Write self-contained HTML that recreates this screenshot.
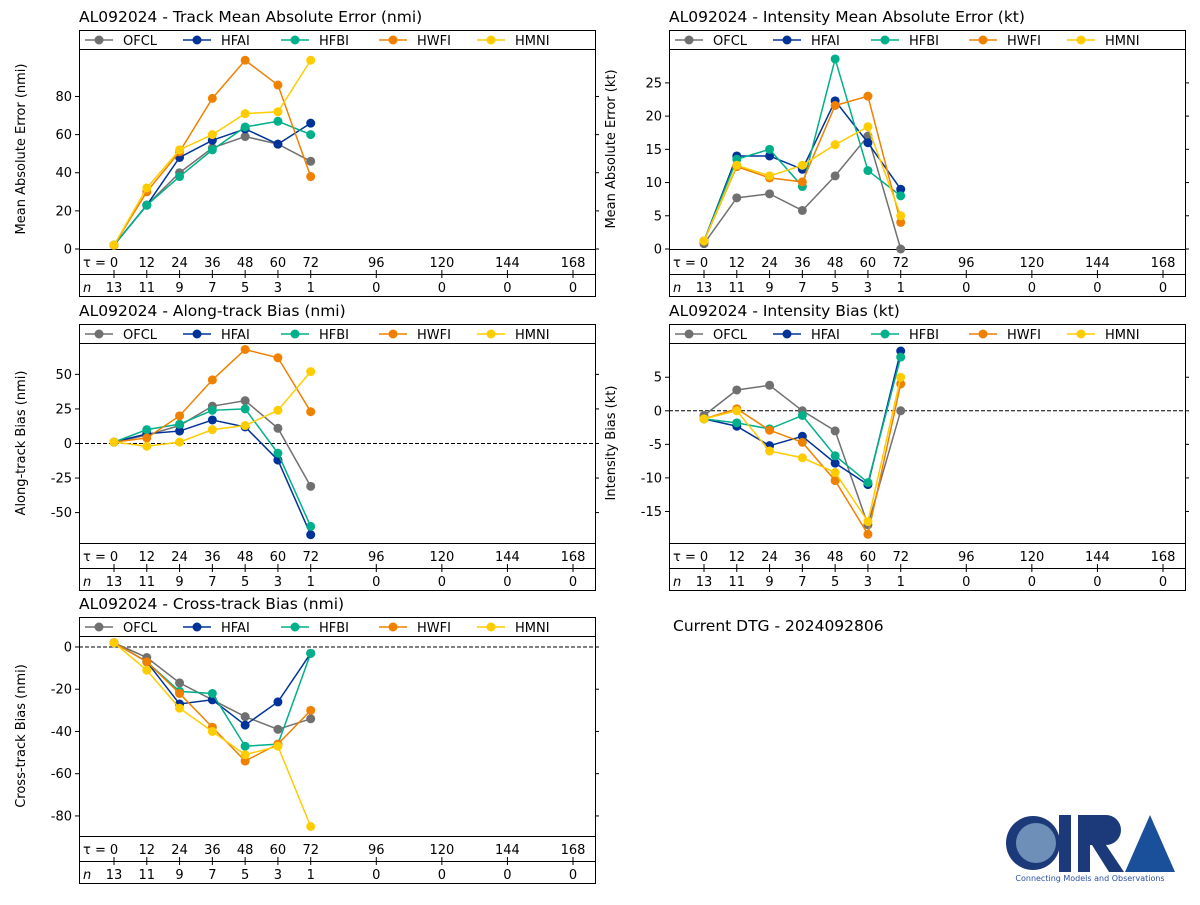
<!DOCTYPE html>
<html><head><meta charset="utf-8">
<style>
body{margin:0;background:#fff;width:1200px;height:900px;overflow:hidden;font-family:"Liberation Sans","DejaVu Sans",sans-serif;}
svg text{font-family:"DejaVu Sans","Liberation Sans",sans-serif;}
</style></head>
<body>
<svg id="chart" width="1200" height="900" xmlns="http://www.w3.org/2000/svg"></svg>
<script>
const taus = [0,12,24,36,48,60,72];
const tauLabels = [0,12,24,36,48,60,72,96,120,144,168];
const nLabels = [13,11,9,7,5,3,1,0,0,0,0];
const models = ["OFCL","HFAI","HFBI","HWFI","HMNI"];
const colors = ["#707070","#003399","#00b08a","#f08000","#ffcc00"];
const trackOFCL=[2,23,40,53,59,55,46];
const trackHFAI=[2,23,48,57,63,55,66];
const trackHFBI=[2,23,38,52,64,67,60];
const trackHWFI=[2,30,51,79,99,86,38];
const trackHMNI=[2,32,52,60,71,72,99];
const intOFCL=[0.8,7.7,8.3,5.8,11,17,0];
const intHFAI=[1.2,14,14,12,22.3,16,9];
const intHFBI=[1.2,13.5,15,9.4,28.6,11.8,8];
const intHWFI=[1.2,12.4,10.7,10.1,21.6,23,4];
const intHMNI=[1.2,12.6,11,12.6,15.7,18.4,5];
const alongOFCL=[1,6,13,27,31,11,-31];
const alongHFAI=[1,7,9,17,12,-12,-66];
const alongHFBI=[1,10,14,24,25,-7,-60];
const alongHWFI=[1,4,20,46,68,62,23];
const alongHMNI=[1,-2,1,10,13,24,52];
const ibOFCL=[-0.7,3.1,3.8,0,-3,-17,0];
const ibHFAI=[-1.2,-2.3,-5.2,-3.8,-7.8,-11,8.9];
const ibHFBI=[-1.2,-1.8,-2.7,-0.7,-6.7,-10.7,8];
const ibHWFI=[-1.2,0.3,-2.9,-4.7,-10.4,-18.4,4];
const ibHMNI=[-1.2,0,-6,-7,-9.2,-16.5,5];
const crossOFCL=[2,-5,-17,-25,-33,-39,-34];
const crossHFAI=[2,-7,-27,-25,-37,-26,-3];
const crossHFBI=[2,-7,-21,-22,-47,-46,-3];
const crossHWFI=[2,-7,-22,-38,-54,-46,-30];
const crossHMNI=[2,-11,-29,-40,-51,-47,-85];

const NS="http://www.w3.org/2000/svg";
const svg=document.getElementById('chart');
function el(tag,attrs,parent,txt){const e=document.createElementNS(NS,tag);for(const k in attrs)e.setAttribute(k,attrs[k]);if(txt!==undefined)e.textContent=txt;(parent||svg).appendChild(e);return e;}

const panels=[
 {name:"track-mae",title:"AL092024 - Track Mean Absolute Error (nmi)",ylabel:"Mean Absolute Error (nmi)",x0:79,y0:30,ymin:0,ymax:104.9,ticks:[0,20,40,60,80],series:[trackOFCL,trackHFAI,trackHFBI,trackHWFI,trackHMNI],zero:false},
 {name:"intensity-mae",title:"AL092024 - Intensity Mean Absolute Error (kt)",ylabel:"Mean Absolute Error (kt)",x0:669,y0:30,ymin:0,ymax:30.1,ticks:[0,5,10,15,20,25],series:[intOFCL,intHFAI,intHFBI,intHWFI,intHMNI],zero:false},
 {name:"along-track-bias",title:"AL092024 - Along-track Bias (nmi)",ylabel:"Along-track Bias (nmi)",x0:79,y0:324,ymin:-72,ymax:72.7,ticks:[-50,-25,0,25,50],series:[alongOFCL,alongHFAI,alongHFBI,alongHWFI,alongHMNI],zero:true},
 {name:"intensity-bias",title:"AL092024 - Intensity Bias (kt)",ylabel:"Intensity Bias (kt)",x0:669,y0:324,ymin:-19.7,ymax:10.1,ticks:[-15,-10,-5,0,5],series:[ibOFCL,ibHFAI,ibHFBI,ibHWFI,ibHMNI],zero:true},
 {name:"cross-track-bias",title:"AL092024 - Cross-track Bias (nmi)",ylabel:"Cross-track Bias (nmi)",x0:79,y0:617,ymin:-89.5,ymax:5.2,ticks:[-80,-60,-40,-20,0],series:[crossOFCL,crossHFAI,crossHFBI,crossHWFI,crossHMNI],zero:true}
];

panels.forEach(p=>{
 const g=el('g',{});
 
 
 const W=516, legH=19, plotTop=p.y0+legH, plotBot=plotTop+200, tauBot=plotBot+25, nBot=tauBot+22;
 const xs=t=>p.x0+35+t*(459/168);
 const ys=v=>plotBot-(v-p.ymin)/(p.ymax-p.ymin)*200;
 const t=el('text',{x:p.x0,y:p.y0-8,'font-size':15.5,fill:'#000'},g,p.title);
 
 el('rect',{x:p.x0+.5,y:p.y0+.5,width:W,height:nBot-p.y0,fill:'none',stroke:'#000'},g);
 el('line',{x1:p.x0,x2:p.x0+W,y1:plotTop+.5,y2:plotTop+.5,stroke:'#000'},g);
 el('line',{x1:p.x0,x2:p.x0+W,y1:plotBot+.5,y2:plotBot+.5,stroke:'#000'},g);
 el('line',{x1:p.x0,x2:p.x0+W,y1:tauBot+.5,y2:tauBot+.5,stroke:'#000'},g);
 models.forEach((m,i)=>{
  const lx=p.x0+6+i*98, ly=p.y0+10;
  const lg=el('g',{},g);
  
  
  el('line',{x1:lx,x2:lx+28,y1:ly,y2:ly,stroke:colors[i],'stroke-width':1.5},lg);
  el('circle',{cx:lx+14,cy:ly,r:4.5,fill:colors[i]},lg);
  el('text',{x:lx+38,y:ly+5,'font-size':13},lg,m);
 });
 const yl=el('g',{},g);
 
 p.ticks.forEach(v=>{const y=ys(v);
  el('line',{x1:p.x0-4,x2:p.x0,y1:y,y2:y,stroke:'#000'},yl);
  el('line',{x1:p.x0+W,x2:p.x0+W+4,y1:y,y2:y,stroke:'#000'},yl);
  el('text',{x:p.x0-7,y:y+4.5,'font-size':13,'text-anchor':'end'},yl,v);
 });
 const yt=el('text',{transform:`translate(${p.x0-54},${(plotTop+plotBot)/2}) rotate(-90)`,'font-size':13,'text-anchor':'middle'},g,p.ylabel);
 
 if(p.zero) el('line',{x1:p.x0,x2:p.x0+W,y1:ys(0),y2:ys(0),stroke:'#000','stroke-dasharray':'4,2'},g);
 const xr=el('g',{},g);
 
 el('text',{x:p.x0+4,y:plotBot+18,'font-size':13},xr,'τ =');
 el('text',{x:p.x0+4,y:tauBot+18,'font-size':13,'font-style':'italic'},xr,'n');
 tauLabels.forEach((tv,i)=>{const x=xs(tv);
  el('text',{x:x,y:plotBot+18,'font-size':13,'text-anchor':'middle'},xr,tv);
  el('line',{x1:x,x2:x,y1:tauBot-4,y2:tauBot+4,stroke:'#000'},xr);
  el('text',{x:x,y:tauBot+18,'font-size':13,'text-anchor':'middle'},xr,nLabels[i]);
 });
 p.series.forEach((s,i)=>{
  const sg=el('g',{},g);
  
  
  el('polyline',{points:s.map((v,j)=>xs(taus[j])+','+ys(v)).join(' '),fill:'none',stroke:colors[i],'stroke-width':1.5},sg);
  s.forEach((v,j)=>{const c=el('circle',{cx:xs(taus[j]),cy:ys(v),r:4.5,fill:colors[i]},sg);
   });
 });
});
const dtg=el('text',{x:673,y:631,'font-size':15.5},svg,'Current DTG - 2024092806');

const lg=el('g',{});

el('circle',{cx:1033,cy:843,r:27,fill:'#1c3a7a'},lg);
el('circle',{cx:1036,cy:843,r:20,fill:'#6e8fb8'},lg);
el('rect',{x:1059,y:815,width:12,height:57,fill:'#1c3a7a'},lg);
el('path',{d:'M1078 815 h28 a15 15 0 0 1 0 30 l18 27 h-15 l-17 -27 h-2 v27 h-12 z',fill:'#1c3a7a'},lg);
el('path',{d:'M1125 872 L1150 815 L1175 872 z',fill:'#1a4f9a'},lg);
el('text',{x:1090,y:881,'font-size':8,'text-anchor':'middle',fill:'#2a4fa0'},lg,'Connecting Models and Observations');
</script>
</body></html>
